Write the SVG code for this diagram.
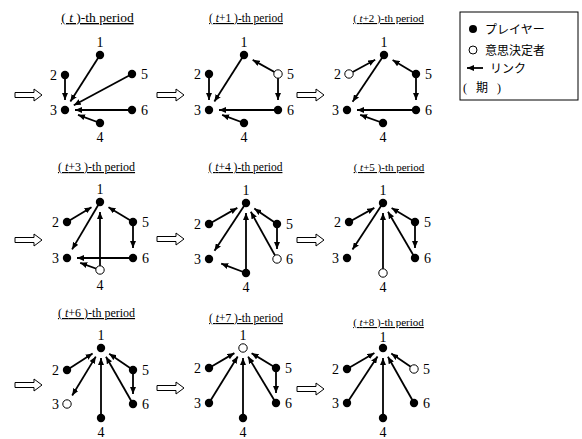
<svg xmlns="http://www.w3.org/2000/svg" width="582" height="439" viewBox="0 0 582 439">
<style>
.e{stroke:#000;stroke-width:1.8;fill:none;marker-end:url(#ah)}
.b{marker-start:url(#ah)}
.n{fill:#000}
.h{fill:#fff;stroke:#000;stroke-width:1}
.lb{font-family:"Liberation Serif","Times New Roman",serif;font-size:14px;fill:#000}
.m{text-anchor:middle}
.r{text-anchor:end}
.tt{font-family:"Liberation Serif","Times New Roman",serif;fill:#000;text-anchor:middle;text-decoration:underline}
.it{font-style:italic}
.jp{font-family:"Liberation Serif","Noto Sans CJK JP",serif;font-size:12px;fill:#000}
</style>
<defs>
<marker id="ah" viewBox="0 0 7 6" refX="7" refY="3" markerWidth="7" markerHeight="6" markerUnits="userSpaceOnUse" orient="auto-start-reverse"><path d="M0,0 L7,3 L0,6 z" fill="#000"/></marker>
<path id="blk" d="M0,-2.5 H19 V-6 L27,0 L19,6 V2.5 H0 Z" fill="#fff" stroke="#000" stroke-width="1"/>
</defs>

<g id="titles">
<text class="tt" x="97.5" y="22" font-size="13.5">( <tspan class="it">t</tspan> )-th period</text>
<text class="tt" x="246" y="22" font-size="11.5">( <tspan class="it">t</tspan>+1 )-th period</text>
<text class="tt" x="388.5" y="22" font-size="11">( <tspan class="it">t</tspan>+2 )-th period</text>
<text class="tt" x="96.5" y="171" font-size="12">( <tspan class="it">t</tspan>+3 )-th period</text>
<text class="tt" x="245.5" y="171" font-size="11.5">( <tspan class="it">t</tspan>+4 )-th period</text>
<text class="tt" x="389" y="171" font-size="11">( <tspan class="it">t</tspan>+5 )-th period</text>
<text class="tt" x="96.5" y="317" font-size="12">( <tspan class="it">t</tspan>+6 )-th period</text>
<text class="tt" x="246" y="322" font-size="11.5">( <tspan class="it">t</tspan>+7 )-th period</text>
<text class="tt" x="388.5" y="326" font-size="11">( <tspan class="it">t</tspan>+8 )-th period</text>
</g>

<g id="transitions">
<use href="#blk" x="15" y="95"/><use href="#blk" x="157" y="95"/><use href="#blk" x="297" y="95"/>
<use href="#blk" x="15" y="240"/><use href="#blk" x="157" y="239"/><use href="#blk" x="297" y="240"/>
<use href="#blk" x="15" y="385"/><use href="#blk" x="157" y="388"/><use href="#blk" x="297" y="389"/>
</g>

<g id="connectors">
<!-- t -->
<line class="e" x1="100" y1="55" x2="70.4" y2="101.6"/>
<line class="e" x1="65" y1="75" x2="65" y2="100"/>
<line class="e" x1="132" y1="74" x2="73.8" y2="105.3"/>
<line class="e" x1="132" y1="110" x2="75" y2="110"/>
<line class="e" x1="100" y1="123" x2="78" y2="114.8"/>
<!-- t+1 -->
<line class="e" x1="244" y1="55" x2="214.4" y2="101.6"/>
<line class="e" x1="209" y1="74" x2="209" y2="100"/>
<line class="e" x1="278" y1="74" x2="252.7" y2="59.9"/>
<line class="e" x1="278" y1="74" x2="278" y2="100"/>
<line class="e" x1="278" y1="110" x2="219" y2="110"/>
<line class="e" x1="244" y1="123" x2="222.1" y2="114.9"/>
<!-- t+2 -->
<line class="e" x1="349" y1="74" x2="375.2" y2="59.8"/>
<line class="e" x1="384" y1="55" x2="352.6" y2="101.7"/>
<line class="e" x1="416" y1="74" x2="392.6" y2="60.1"/>
<line class="e" x1="416" y1="74" x2="416" y2="100"/>
<line class="e" x1="416" y1="110" x2="357" y2="110"/>
<line class="e" x1="383" y1="123" x2="360.2" y2="114.8"/>
<!-- t+3 -->
<line class="e" x1="67" y1="222" x2="91.5" y2="207.2"/>
<line class="e" x1="100" y1="202" x2="72.1" y2="249.4"/>
<line class="e" x1="133" y1="258" x2="77" y2="258"/>
<line class="e" x1="100" y1="270" x2="100" y2="212"/>
<line class="e" x1="133" y1="222" x2="108.5" y2="207.2"/>
<line class="e" x1="133" y1="222" x2="133" y2="248"/>
<line class="e" x1="100" y1="270" x2="80.2" y2="262.8"/>
<!-- t+4 -->
<line class="e" x1="209" y1="224" x2="237.3" y2="207.9"/>
<line class="e" x1="246" y1="203" x2="214.5" y2="250.7"/>
<line class="e" x1="246" y1="273" x2="246" y2="213"/>
<line class="e" x1="277" y1="224" x2="254.3" y2="208.6"/>
<line class="e" x1="277" y1="224" x2="277" y2="249"/>
<line class="e" x1="277" y1="259" x2="250.8" y2="211.8"/>
<line class="e" x1="246" y1="273" x2="221.2" y2="263.6"/>
<!-- t+5 -->
<line class="e" x1="349" y1="222" x2="374.3" y2="207.9"/>
<line class="e" x1="383" y1="203" x2="352.5" y2="249.6"/>
<line class="e" x1="383" y1="273" x2="383" y2="213"/>
<line class="e" x1="415" y1="222" x2="391.6" y2="208.1"/>
<line class="e" x1="415" y1="222" x2="415" y2="248"/>
<line class="e" x1="415" y1="258" x2="388" y2="211.7"/>
<!-- t+6 -->
<line class="e" x1="67" y1="370" x2="92.6" y2="353.4"/>
<line class="e b" x1="95.8" y1="356.6" x2="72.2" y2="395.5"/>
<line class="e" x1="101" y1="418" x2="101" y2="358"/>
<line class="e" x1="133" y1="370" x2="109.2" y2="353.7"/>
<line class="e" x1="133" y1="370" x2="133" y2="394"/>
<line class="e" x1="133" y1="404" x2="106" y2="356.7"/>
<!-- t+7 -->
<line class="e" x1="209" y1="368" x2="234.4" y2="353.1"/>
<line class="e" x1="209" y1="403" x2="237.7" y2="356.5"/>
<line class="e" x1="243" y1="418" x2="243" y2="358"/>
<line class="e" x1="276" y1="368" x2="251.6" y2="353.2"/>
<line class="e" x1="276" y1="368" x2="276" y2="393"/>
<line class="e" x1="276" y1="403" x2="248.1" y2="356.6"/>
<!-- t+8 -->
<line class="e" x1="347" y1="369" x2="374.4" y2="353"/>
<line class="e" x1="347" y1="403" x2="377.5" y2="356.4"/>
<line class="e" x1="383" y1="418" x2="383" y2="358"/>
<line class="e" x1="414" y1="369" x2="391.3" y2="353.6"/>
<line class="e" x1="414" y1="403" x2="387.9" y2="356.7"/>
</g>

<!-- panel t -->
<g id="p0-n1"><circle class="n" cx="100" cy="55" r="4.2"/><text class="lb m" x="100" y="47">1</text></g>
<g id="p0-n2"><circle class="n" cx="65" cy="75" r="4.2"/><text class="lb r" x="57" y="80">2</text></g>
<g id="p0-n3"><circle class="n" cx="65" cy="110" r="4.2"/><text class="lb r" x="57" y="115">3</text></g>
<g id="p0-n4"><circle class="n" cx="100" cy="123" r="4.2"/><text class="lb m" x="100" y="142">4</text></g>
<g id="p0-n5"><circle class="n" cx="132" cy="74" r="4.2"/><text class="lb" x="141" y="79">5</text></g>
<g id="p0-n6"><circle class="n" cx="132" cy="110" r="4.2"/><text class="lb" x="141" y="115">6</text></g>
<!-- panel t+1 -->
<g id="p1-n1"><circle class="n" cx="244" cy="55" r="4.2"/><text class="lb m" x="244" y="47">1</text></g>
<g id="p1-n2"><circle class="n" cx="209" cy="74" r="4.2"/><text class="lb r" x="201" y="79">2</text></g>
<g id="p1-n3"><circle class="n" cx="209" cy="110" r="4.2"/><text class="lb r" x="201" y="115">3</text></g>
<g id="p1-n4"><circle class="n" cx="244" cy="123" r="4.2"/><text class="lb m" x="244" y="142">4</text></g>
<g id="p1-n5"><circle class="h" cx="278" cy="74" r="4.2"/><text class="lb" x="287" y="79">5</text></g>
<g id="p1-n6"><circle class="n" cx="278" cy="110" r="4.2"/><text class="lb" x="287" y="115">6</text></g>
<!-- panel t+2 -->
<g id="p2-n1"><circle class="n" cx="384" cy="55" r="4.2"/><text class="lb m" x="384" y="47">1</text></g>
<g id="p2-n2"><circle class="h" cx="349" cy="74" r="4.2"/><text class="lb r" x="341" y="79">2</text></g>
<g id="p2-n3"><circle class="n" cx="347" cy="110" r="4.2"/><text class="lb r" x="339" y="115">3</text></g>
<g id="p2-n4"><circle class="n" cx="383" cy="123" r="4.2"/><text class="lb m" x="383" y="142">4</text></g>
<g id="p2-n5"><circle class="n" cx="416" cy="74" r="4.2"/><text class="lb" x="425" y="79">5</text></g>
<g id="p2-n6"><circle class="n" cx="416" cy="110" r="4.2"/><text class="lb" x="425" y="115">6</text></g>
<!-- panel t+3 -->
<g id="p3-n1"><circle class="n" cx="100" cy="202" r="4.2"/><text class="lb m" x="100" y="194">1</text></g>
<g id="p3-n2"><circle class="n" cx="67" cy="222" r="4.2"/><text class="lb r" x="59" y="227">2</text></g>
<g id="p3-n3"><circle class="n" cx="67" cy="258" r="4.2"/><text class="lb r" x="59" y="263">3</text></g>
<g id="p3-n4"><circle class="h" cx="100" cy="270" r="4.2"/><text class="lb m" x="100" y="290">4</text></g>
<g id="p3-n5"><circle class="n" cx="133" cy="222" r="4.2"/><text class="lb" x="142" y="227">5</text></g>
<g id="p3-n6"><circle class="n" cx="133" cy="258" r="4.2"/><text class="lb" x="142" y="263">6</text></g>
<!-- panel t+4 -->
<g id="p4-n1"><circle class="n" cx="246" cy="203" r="4.2"/><text class="lb m" x="246" y="195">1</text></g>
<g id="p4-n2"><circle class="n" cx="209" cy="224" r="4.2"/><text class="lb r" x="201" y="229">2</text></g>
<g id="p4-n3"><circle class="n" cx="209" cy="259" r="4.2"/><text class="lb r" x="201" y="264">3</text></g>
<g id="p4-n4"><circle class="n" cx="246" cy="273" r="4.2"/><text class="lb m" x="246" y="292">4</text></g>
<g id="p4-n5"><circle class="n" cx="277" cy="224" r="4.2"/><text class="lb" x="286" y="229">5</text></g>
<g id="p4-n6"><circle class="h" cx="277" cy="259" r="4.2"/><text class="lb" x="286" y="264">6</text></g>
<!-- panel t+5 -->
<g id="p5-n1"><circle class="n" cx="383" cy="203" r="4.2"/><text class="lb m" x="383" y="195">1</text></g>
<g id="p5-n2"><circle class="n" cx="349" cy="222" r="4.2"/><text class="lb r" x="341" y="227">2</text></g>
<g id="p5-n3"><circle class="n" cx="347" cy="258" r="4.2"/><text class="lb r" x="339" y="263">3</text></g>
<g id="p5-n4"><circle class="h" cx="383" cy="273" r="4.2"/><text class="lb m" x="383" y="292">4</text></g>
<g id="p5-n5"><circle class="n" cx="415" cy="222" r="4.2"/><text class="lb" x="424" y="227">5</text></g>
<g id="p5-n6"><circle class="n" cx="415" cy="258" r="4.2"/><text class="lb" x="424" y="263">6</text></g>
<!-- panel t+6 -->
<g id="p6-n1"><circle class="n" cx="101" cy="348" r="4.2"/><text class="lb m" x="101" y="340">1</text></g>
<g id="p6-n2"><circle class="n" cx="67" cy="370" r="4.2"/><text class="lb r" x="59" y="375">2</text></g>
<g id="p6-n3"><circle class="h" cx="67" cy="404" r="4.2"/><text class="lb r" x="59" y="409">3</text></g>
<g id="p6-n4"><circle class="n" cx="101" cy="418" r="4.2"/><text class="lb m" x="101" y="437">4</text></g>
<g id="p6-n5"><circle class="n" cx="133" cy="370" r="4.2"/><text class="lb" x="142" y="375">5</text></g>
<g id="p6-n6"><circle class="n" cx="133" cy="404" r="4.2"/><text class="lb" x="142" y="409">6</text></g>
<!-- panel t+7 -->
<g id="p7-n1"><circle class="h" cx="243" cy="348" r="4.2"/><text class="lb m" x="243" y="340">1</text></g>
<g id="p7-n2"><circle class="n" cx="209" cy="368" r="4.2"/><text class="lb r" x="201" y="373">2</text></g>
<g id="p7-n3"><circle class="n" cx="209" cy="403" r="4.2"/><text class="lb r" x="201" y="408">3</text></g>
<g id="p7-n4"><circle class="n" cx="243" cy="418" r="4.2"/><text class="lb m" x="243" y="437">4</text></g>
<g id="p7-n5"><circle class="n" cx="276" cy="368" r="4.2"/><text class="lb" x="285" y="373">5</text></g>
<g id="p7-n6"><circle class="n" cx="276" cy="403" r="4.2"/><text class="lb" x="285" y="408">6</text></g>
<!-- panel t+8 -->
<g id="p8-n1"><circle class="n" cx="383" cy="348" r="4.2"/><text class="lb m" x="383" y="342">1</text></g>
<g id="p8-n2"><circle class="n" cx="347" cy="369" r="4.2"/><text class="lb r" x="339" y="374">2</text></g>
<g id="p8-n3"><circle class="n" cx="347" cy="403" r="4.2"/><text class="lb r" x="339" y="408">3</text></g>
<g id="p8-n4"><circle class="n" cx="383" cy="418" r="4.2"/><text class="lb m" x="383" y="437">4</text></g>
<g id="p8-n5"><circle class="h" cx="414" cy="369" r="4.2"/><text class="lb" x="423" y="374">5</text></g>
<g id="p8-n6"><circle class="n" cx="414" cy="403" r="4.2"/><text class="lb" x="423" y="408">6</text></g>

<g id="legend">
<rect x="460" y="12" width="118" height="88" fill="#fff" stroke="#000" stroke-width="1"/>
<circle class="n" cx="473" cy="29" r="4"/>
<text class="jp" x="485" y="34">プレイヤー</text>
<circle class="h" cx="473" cy="50" r="4"/>
<text class="jp" x="485" y="55">意思決定者</text>
<line class="e" x1="483" y1="68" x2="467" y2="68"/>
<text class="jp" x="490" y="73">リンク</text>
<text class="jp" x="463" y="92" letter-spacing="3">( 期 )</text>
</g>
</svg>
